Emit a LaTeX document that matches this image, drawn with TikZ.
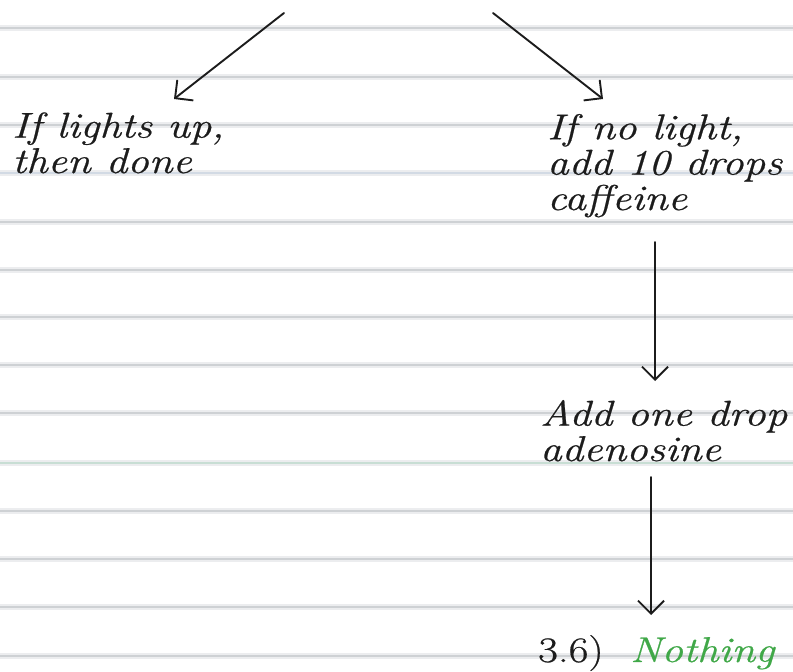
\documentclass[tikz,border=0pt]{standalone}
\usepackage{fontspec}
\setmainfont{Latin Modern Roman}[FakeStretch=1.2, FakeBold=0.6]
\usetikzlibrary{arrows.meta}
\definecolor{rule}{RGB}{206,209,212}
\definecolor{rulehalo}{RGB}{236,237,239}
\definecolor{ruleblue}{RGB}{210,218,228}
\definecolor{rulegreen}{RGB}{200,222,212}
\definecolor{ink}{RGB}{28,28,28}
\definecolor{greenink}{RGB}{64,168,72}
\tikzset{
  x=1bp, y=-1bp,
  hand/.style={font=\fontsize{36}{35.5}\selectfont\itshape, text=ink, inner sep=0pt, anchor=base west, align=left},
  arr/.style={draw=ink, line width=1.9bp, line cap=round, -{Straight Barb[length=13bp,width=26bp,line width=1.9bp]}},
  paperline/.style={line width=2.4bp, draw=rule},
  halo/.style={line width=6bp, draw=rulehalo},
}
\begin{document}
\begin{tikzpicture}
\useasboundingbox (0,0) rectangle (793,672);
\fill[white] (0,0) rectangle (793,672);
% ruled paper
\foreach \yy in {28,77,125,173,222,270,317,365,413,463,511,559,607,656}{
  \draw[halo] (0,\yy) -- (793,\yy);
}
\foreach \yy in {28,77,125,222,270,317,365,413,511,559,607,656}{
  \draw[paperline] (0,\yy) -- (793,\yy);
}
\draw[paperline, draw=ruleblue] (0,173) -- (793,173);
\draw[paperline, draw=rulegreen] (0,463) -- (793,463);
% texts (anchor = baseline of the last line)
\node[hand] (n1) at (12,173) {If lights up,\\then done};
\node[hand] (n2) at (547,210) {If no light,\\add 10 drops\\caffeine};
\node[hand] (n3) at (540,461) {Add one drop\\adenosine};
\node[hand, font=\fontsize{36}{35}\selectfont] (n4) at (538,662) {3.6)};
\node[hand, text=greenink] (n5) at (630,662) {Nothing};
% arrows
\coordinate (s1) at (284,13);
\coordinate (t1) at (174,99);
\coordinate (s2) at (493,13);
\coordinate (t2) at (603,99);
\coordinate (s3) at (655,242);
\coordinate (t3) at (655,381);
\coordinate (s4) at (651,477);
\coordinate (t4) at (651,615);
\draw[arr] (s1) -- (t1);
\draw[arr] (s2) -- (t2);
\draw[arr] (s3) -- (t3);
\draw[arr] (s4) -- (t4);
\end{tikzpicture}
\end{document}
